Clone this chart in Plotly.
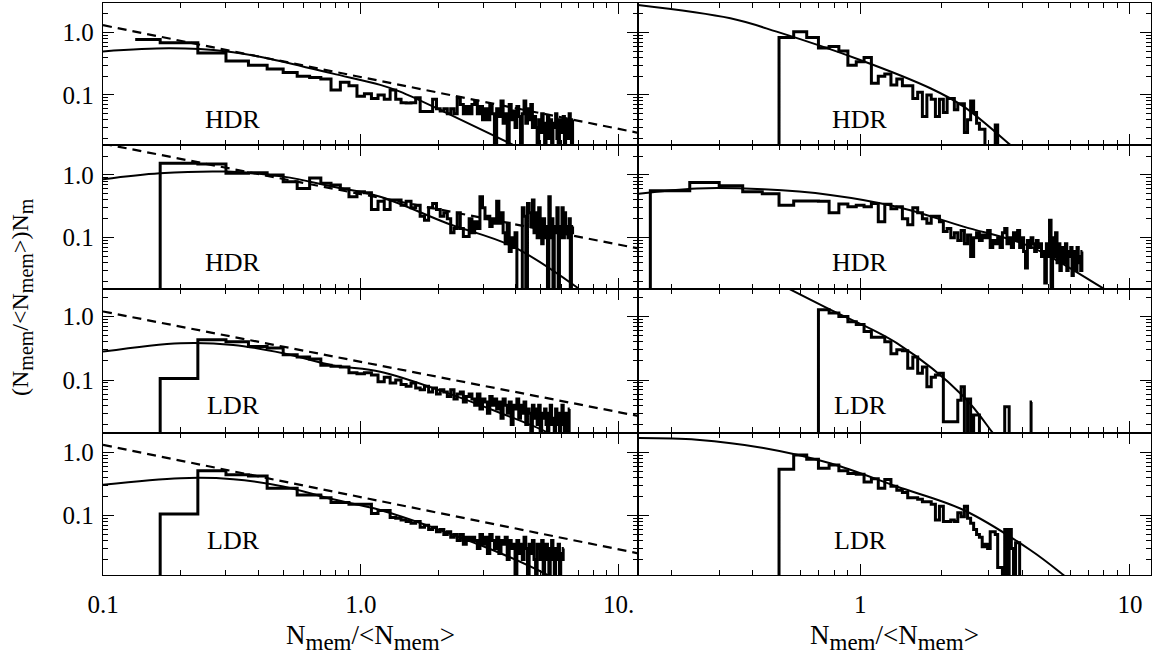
import plotly.graph_objects as go
import math

# ---------------- data ----------------
BIN = 1 / 15.0          # histogram bins are centred on k/15
ZERO_FLOOR = 1e-4       # empty bins drawn below the log axis

# left column (x from 0.1) ---------------------------------------------
L1_K0 = 2
L1_HIST = [0.78, 0.69, 0.47, 0.35, 0.30, 0.26, 0.23, 0.20, 0.19, 0.18, 0.12, 0.16, 0.14, 0.095, 0.105, 0.088, 0.10,
           0.085, 0.12, 0.085, 0.075, 0.074, 0.075, 0.09, 0.054, 0.054, 0.054, 0.085, 0.06, 0.055, 0.06, 0.05, 0.06,
           0.05, 0.09, 0.07, 0.05, 0.065, 0.05, 0.07, 0.08, 0.05, 0.065, 0.04, 0.06, 0.04, 0.07, 0.05, 0,
           0.06, 0.045, 0.08, 0.035, 0.05, 0, 0.07, 0.04, 0.055, 0.03, 0.065, 0.045, 0, 0.05, 0.08, 0.035, 0.06, 0.04,
           0.07, 0.03, 0.045, 0.03, 0, 0.04, 0.025, 0.05, 0.035, 0, 0.03, 0.045, 0.02, 0.04, 0, 0.035, 0.03, 0.05,
           0.02, 0, 0.04, 0.03, 0.025, 0.045, 0, 0.03, 0.04, 0.02, 0.05, 0.03, 0, 0.04]
L1_SOLID_X = [0.1, 0.182, 0.303, 0.432, 0.78, 1.19, 1.42, 2.16, 3.9, 5.0]
L1_SOLID_Y = [0.50, 0.56, 0.50, 0.39, 0.22, 0.145, 0.113, 0.051, 0.0158, 0.0096]
L1_DASH_X = [0.1, 12.0]
L1_DASH_Y = [1.32, 0.0245]

L2_K0 = 2
L2_HIST = [0, 1.54, 1.5, 1.06, 1.08, 1.0, 0.78, 0.61, 0.89, 0.74, 0.69, 0.6, 0.45, 0.54, 0.52, 0.28, 0.38,
           0.28, 0.40, 0.40, 0.33, 0.38, 0.30, 0.33, 0.22, 0.19, 0.30, 0.35, 0.28, 0.22, 0.25, 0.20, 0.12, 0.14,
           0.25, 0.14, 0.104, 0.104, 0.2, 0.12, 0.18, 0.14, 0.45, 0.30, 0.2, 0.22, 0.15, 0.2, 0.17, 0.38, 0.17,
           0.25, 0.12, 0.08, 0.17, 0.06, 0.1, 0.07, 0.12, 0, 0, 0, 0.3, 0.22, 0, 0.35, 0.25, 0.15, 0.4, 0.12,
           0.25, 0.1, 0.3, 0.15, 0.08, 0.2, 0.1, 0.15, 0, 0.45, 0.1, 0.2, 0, 0.15, 0.12, 0.3, 0, 0.15, 0.1, 0.3,
           0.1, 0.25, 0.12, 0.15, 0.1, 0.2, 0, 0.12, 0.15]
L2_SOLID_X = [0.1, 0.166, 0.303, 0.5, 0.78, 1.19, 2.16, 3.9, 7.0]
L2_SOLID_Y = [0.85, 1.06, 1.13, 0.94, 0.65, 0.45, 0.17, 0.072, 0.0155]
L2_DASH_X = [0.1, 11.8]
L2_DASH_Y = [3.15, 0.068]

L3_K0 = 2
L3_HIST = [0, 0.106, 0.43, 0.40, 0.336, 0.32, 0.25, 0.23, 0.215, 0.17, 0.165, 0.16, 0.13, 0.125, 0.13, 0.12, 0.094,
           0.11, 0.09, 0.1, 0.085, 0.08, 0.09, 0.075, 0.07, 0.08, 0.065, 0.075, 0.06, 0.07, 0.065, 0.055, 0.07, 0.05,
           0.06, 0.065, 0.045, 0.055, 0.06, 0.05, 0.04, 0.06, 0.035, 0.05, 0.045, 0.03, 0.055, 0.04, 0.05, 0.035,
           0.045, 0.025, 0.05, 0.04, 0.03, 0.045, 0.02, 0.04, 0.035, 0.05, 0.025, 0.04, 0.03, 0.045, 0.02, 0.035,
           0.03, 0, 0.04, 0.025, 0.035, 0.02, 0.04, 0, 0.03, 0.025, 0.035, 0.02, 0, 0.03, 0.04, 0.02, 0.025, 0,
           0.035, 0.02, 0.03, 0, 0.025, 0.04, 0.02, 0, 0.03, 0.025, 0, 0.035]
L3_SOLID_X = [0.1, 0.2, 0.32, 0.5, 0.78, 1.19, 2.0, 3.5, 5.3, 6.5]
L3_SOLID_Y = [0.28, 0.38, 0.357, 0.264, 0.17, 0.135, 0.07, 0.03, 0.0149, 0.009]
L3_DASH_X = [0.1, 12.0]
L3_DASH_Y = [1.2, 0.027]

L4_K0 = 2
L4_HIST = [0, 0.105, 0.51, 0.44, 0.42, 0.27, 0.27, 0.21, 0.21, 0.19, 0.16, 0.16, 0.15, 0.15, 0.15, 0.107, 0.12,
           0.12, 0.093, 0.09, 0.085, 0.08, 0.075, 0.08, 0.065, 0.07, 0.06, 0.065, 0.055, 0.06, 0.05, 0.055, 0.045,
           0.05, 0.04, 0.05, 0.035, 0.045, 0.04,
           0.045, 0.04, 0.03, 0.05, 0.035, 0.045, 0.025, 0.05, 0.04, 0.03, 0.045, 0.025, 0.04, 0.035, 0.045, 0.02,
           0.04, 0.03, 0.035, 0, 0.04, 0.025, 0.035, 0.02, 0.045, 0.03, 0, 0.035, 0.025, 0.04, 0.02, 0, 0.035,
           0.03, 0.02, 0.04, 0, 0.025, 0.035, 0.02, 0, 0.03, 0.04, 0.02, 0, 0.03, 0.02, 0.035, 0, 0.025, 0.02, 0.03]
L4_SOLID_X = [0.1, 0.2, 0.32, 0.5, 0.78, 1.19, 2.0, 3.5, 5.3, 6.5]
L4_SOLID_Y = [0.305, 0.39, 0.375, 0.287, 0.18, 0.122, 0.06, 0.025, 0.0114, 0.007]
L4_DASH_X = [0.1, 12.0]
L4_DASH_Y = [1.31, 0.025]

# right column (x from 0.15) --------------------------------------------
R1_K0 = 1
R1_HIST = [0, 0, 0, 0, 0, 0, 0, 0.84, 1.04, 0.84, 0.57, 0.60, 0.51, 0.30, 0.34, 0.40, 0.154, 0.20, 0.217, 0.145,
           0.18, 0.14, 0.14, 0.088, 0.11, 0.045, 0.10, 0.085, 0.045, 0.085, 0.052, 0.088, 0.088, 0.058, 0.072,
           0.072, 0.025, 0.04, 0.08, 0.052, 0.035, 0.028, 0.028, 0, 0, 0, 0, 0.033, 0]
R1_SOLID_X = [0.15, 0.33, 0.49, 1.0, 1.82, 2.42, 3.6, 4.3]
R1_SOLID_Y = [2.78, 1.70, 1.04, 0.365, 0.128, 0.065, 0.0158, 0.008]

R2_K0 = 2
R2_HIST = [0, 0.56, 0.755, 0.675, 0.54, 0.50, 0.33, 0.385, 0.385, 0.38, 0.25, 0.345, 0.31, 0.33, 0.31, 0.35, 0.18,
           0.34, 0.29, 0.31, 0.2, 0.16, 0.3, 0.25, 0.2, 0.17, 0.22, 0.22, 0.18, 0.125,
           0.14, 0.1, 0.12, 0.09, 0.13, 0.08, 0.11, 0.05, 0.1, 0.12, 0.09, 0.11, 0.1, 0.13, 0.07, 0.09, 0.08, 0.1,
           0.07, 0.12, 0.14, 0.08, 0.1, 0.07, 0.12, 0.09, 0.13, 0.07, 0.1, 0.06, 0.033, 0.09, 0.07, 0.1, 0.08, 0.06,
           0.09, 0.07, 0.08, 0.05, 0.06, 0.019, 0.08, 0.05, 0.19, 0, 0.1, 0.05, 0.12, 0.04, 0.08, 0.03, 0.06, 0.07,
           0.04, 0.08, 0.03, 0.06, 0.05, 0.07, 0.025, 0.05, 0.06, 0.03, 0.07, 0.04, 0.05, 0.03, 0.06]
R2_SOLID_X = [0.151, 0.248, 0.438, 0.774, 1.367, 2.415, 4.27, 7.97, 9.5]
R2_SOLID_Y = [0.50, 0.61, 0.59, 0.48, 0.31, 0.15, 0.072, 0.0155, 0.01]

R3_K0 = 1
R3_HIST = [0, 0, 0, 0, 0, 0, 0, 0, 0, 0, 1.28, 1.13, 1.0, 0.83, 0.75, 0.58, 0.47, 0.47, 0.40, 0.26, 0.30, 0.29,
           0.153, 0.23, 0.128, 0.16, 0.078, 0.11, 0.12, 0.128, 0.022, 0.022, 0.022, 0.022, 0.048, 0.078, 0, 0.05,
           0, 0.028, 0.028, 0, 0, 0, 0, 0, 0, 0, 0, 0, 0, 0.038, 0.038, 0, 0, 0, 0, 0, 0, 0, 0, 0, 0, 0, 0.045]
R3_SOLID_X = [0.5, 0.547, 0.774, 1.367, 2.415, 3.08, 3.5]
R3_SOLID_Y = [3.3, 2.7, 1.28, 0.38, 0.055, 0.0152, 0.007]

R4_K0 = 1
R4_HIST = [0, 0, 0, 0, 0, 0, 0, 0.54, 0.91, 0.78, 0.56, 0.63, 0.51, 0.46, 0.45, 0.34, 0.38, 0.27, 0.37, 0.29,
           0.25, 0.23, 0.19, 0.19, 0.18, 0.165, 0.165, 0.15, 0.085, 0.14, 0.08, 0.08, 0.085, 0.08, 0.11, 0.095,
           0.14, 0.09, 0.075, 0.06, 0.05, 0.045, 0.032, 0.035, 0.03, 0.055, 0.055, 0.05, 0.015, 0.015, 0, 0.06,
           0, 0.06, 0.03, 0, 0.037, 0.037, 0]
R4_SOLID_X = [0.151, 0.248, 0.438, 0.774, 1.367, 2.415, 4.27, 5.67, 6.5]
R4_SOLID_Y = [1.68, 1.58, 1.17, 0.67, 0.287, 0.122, 0.0284, 0.0114, 0.007]

LABELS = ["HDR", "HDR", "HDR", "HDR", "LDR", "LDR", "LDR", "LDR"]
LABEL_X = [0.32, 1.0]
LABEL_Y = 0.04

ROW_YRANGE = [(0.0157, 3.0), (0.0152, 3.0), (0.0149, 2.71), (0.0114, 2.06)]
COL_XRANGE = [(0.1, 11.9), (0.15, 11.97)]

X_TICKS = [[0.1, 1, 10], [1, 10]]
X_TICKTEXT = [["0.1", "1.0", "10."], ["1", "10"]]
Y_TICKS = [0.1, 1]
Y_TICKTEXT = ["0.1", "1.0"]

# ---------------- layout geometry (pixels) ----------------
W, H = 1176, 662
COL_PX = [(103, 638), (638, 1151)]
ROW_PX = [(3, 145), (145, 289), (289, 432.5), (432.5, 575)]

panels = [
    (1, 1, L1_K0, L1_HIST, L1_SOLID_X, L1_SOLID_Y, L1_DASH_X, L1_DASH_Y),
    (1, 2, R1_K0, R1_HIST, R1_SOLID_X, R1_SOLID_Y, None, None),
    (2, 1, L2_K0, L2_HIST, L2_SOLID_X, L2_SOLID_Y, L2_DASH_X, L2_DASH_Y),
    (2, 2, R2_K0, R2_HIST, R2_SOLID_X, R2_SOLID_Y, None, None),
    (3, 1, L3_K0, L3_HIST, L3_SOLID_X, L3_SOLID_Y, L3_DASH_X, L3_DASH_Y),
    (3, 2, R3_K0, R3_HIST, R3_SOLID_X, R3_SOLID_Y, None, None),
    (4, 1, L4_K0, L4_HIST, L4_SOLID_X, L4_SOLID_Y, L4_DASH_X, L4_DASH_Y),
    (4, 2, R4_K0, R4_HIST, R4_SOLID_X, R4_SOLID_Y, None, None),
]


def step_path(k0, vals):
    v = [val if val > 0 else ZERO_FLOOR for val in vals]
    xs = [k0 * BIN]
    ys = [v[0]]
    for i in range(1, len(v)):
        xs.append((k0 + i - 0.5) * BIN)
        ys.append(v[i])
    xs.append((k0 + len(v) - 1) * BIN)
    ys.append(v[-1])
    return xs, ys


def minor_vals(lo, hi):
    out = []
    for e in range(-3, 3):
        for m in range(2, 10):
            val = m * 10 ** e
            if lo < val < hi:
                out.append(val)
    return out


def sub(txt, size):
    return f'<sub><span style="font-size:{size}px">{txt}</span></sub>'


FONT = "Liberation Serif"
fig = go.Figure()
layout = dict(width=W, height=H, margin=dict(l=0, r=0, t=0, b=0, autoexpand=False),
              paper_bgcolor="white", plot_bgcolor="white", showlegend=False)
annotations = []

for idx, (r, c, k0, hist, sx, sy, dx, dy) in enumerate(panels):
    n = idx + 1
    xa = "x" if n == 1 else f"x{n}"
    ya = "y" if n == 1 else f"y{n}"
    hx, hy = step_path(k0, hist)
    fig.add_trace(go.Scatter(x=hx, y=hy, mode="lines", line=dict(color="black", width=3, shape="hv"),
                             xaxis=xa, yaxis=ya, hoverinfo="skip"))
    fig.add_trace(go.Scatter(x=sx, y=sy, mode="lines", line=dict(color="black", width=2, shape="spline"),
                             xaxis=xa, yaxis=ya, hoverinfo="skip"))
    if dx is not None:
        fig.add_trace(go.Scatter(x=dx, y=dy, mode="lines", line=dict(color="black", width=2.2, dash="9px,6px"),
                                 xaxis=xa, yaxis=ya, hoverinfo="skip"))

    cx0, cx1 = COL_PX[c - 1]
    ry0, ry1 = ROW_PX[r - 1]
    xlo, xhi = COL_XRANGE[c - 1]
    ylo, yhi = ROW_YRANGE[r - 1]
    bottom = (r == 4)
    left = (c == 1)
    xkey = "xaxis" if n == 1 else f"xaxis{n}"
    ykey = "yaxis" if n == 1 else f"yaxis{n}"
    layout[xkey] = dict(
        domain=[cx0 / W, cx1 / W], anchor=ya, type="log", automargin=False,
        range=[math.log10(xlo), math.log10(xhi)],
        showgrid=False, zeroline=False, showline=True, linecolor="black", linewidth=1.3, mirror="ticks",
        ticks="inside", ticklen=11, tickwidth=1.2, tickcolor="black",
        tickmode="array", tickvals=X_TICKS[c - 1], ticktext=X_TICKTEXT[c - 1],
        showticklabels=bottom, tickfont=dict(family=FONT, size=25, color="black"),
        ticklabelstandoff=7,
        minor=dict(tickmode="array", tickvals=minor_vals(xlo, xhi), ticks="inside", ticklen=5,
                   tickwidth=1.2, tickcolor="black", showgrid=False),
    )
    layout[ykey] = dict(
        domain=[1 - ry1 / H, 1 - ry0 / H], anchor=xa, type="log", automargin=False,
        range=[math.log10(ylo), math.log10(yhi)],
        showgrid=False, zeroline=False, showline=True, linecolor="black", linewidth=1.3, mirror="ticks",
        ticks="inside", ticklen=11, tickwidth=1.2, tickcolor="black",
        tickmode="array", tickvals=Y_TICKS, ticktext=Y_TICKTEXT,
        showticklabels=left, tickfont=dict(family=FONT, size=25, color="black"),
        ticklabelstandoff=3,
        minor=dict(tickmode="array", tickvals=minor_vals(ylo, yhi), ticks="inside", ticklen=5,
                   tickwidth=1.2, tickcolor="black", showgrid=False),
    )
    annotations.append(dict(x=math.log10(LABEL_X[c - 1]), y=math.log10(LABEL_Y), xref=xa, yref=ya,
                            text=LABELS[idx], showarrow=False, xanchor="center", yanchor="middle",
                            font=dict(family=FONT, size=26, color="black")))

XTITLE = "N" + sub("mem", 23) + "/&lt;N" + sub("mem", 23) + "&gt;"
YTITLE = "(N" + sub("mem", 20) + "/&lt;N" + sub("mem", 20) + "&gt;)N" + sub("m", 20)
for (cx0, cx1) in COL_PX:
    annotations.append(dict(x=(cx0 + cx1) / 2 / W, y=1 - 637 / H, xref="paper", yref="paper", text=XTITLE,
                            showarrow=False, xanchor="center", yanchor="middle",
                            font=dict(family=FONT, size=27, color="black")))
annotations.append(dict(x=22 / W, y=1 - 297 / H, xref="paper", yref="paper", text=YTITLE, textangle=-90,
                        showarrow=False, xanchor="center", yanchor="middle",
                        font=dict(family=FONT, size=24, color="black")))
layout["annotations"] = annotations
fig.update_layout(**layout)
fig.write_html("out.html", config={"displayModeBar": False},
               post_script="document.body.style.margin='0';document.body.style.overflow='hidden';")
